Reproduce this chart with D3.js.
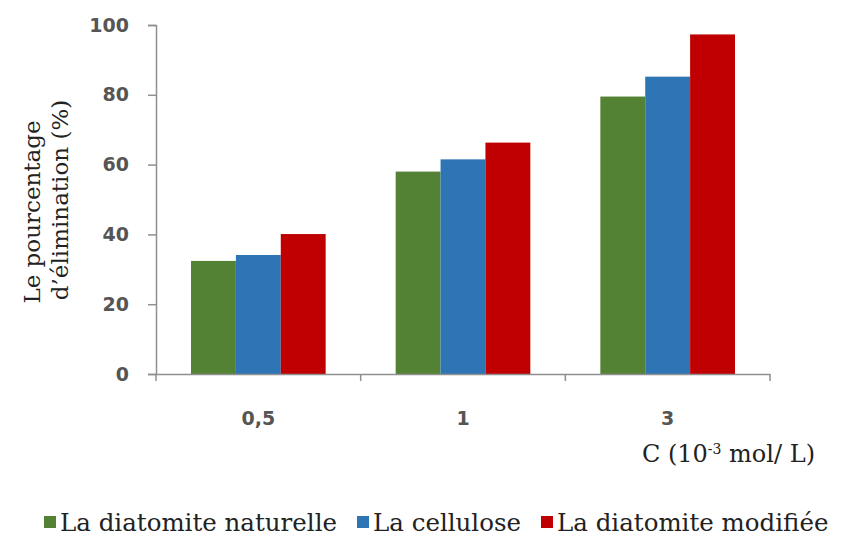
<!DOCTYPE html>
<html>
<head>
<meta charset="utf-8">
<script src="https://cdn.jsdelivr.net/npm/d3@7"></script>
<style>
  body { margin: 0; background: #fff; }
</style>
</head>
<body>
<svg id="chart" width="847" height="537"></svg>
<script>
// data
var categories = ["0,5", "1", "3"]
var series = ["La diatomite naturelle", "La cellulose", "La diatomite modifiée"]
var naturelle = [32.4, 58.0, 79.5]
var cellulose = [34.1, 61.5, 85.2]
var modifiee = [40.1, 66.3, 97.3]
var yTicks = [0, 20, 40, 60, 80, 100]
var colors = ["#548235", "#2e75b6", "#c00000"]

var values = [naturelle, cellulose, modifiee]

var dims = { left: 156, right: 770, top: 25, bottom: 374 }

var svg = d3.select("#chart")

var xScale = d3.scaleBand()
    .domain(categories)
    .range([dims.left, dims.right])

var inner = d3.scaleBand()
    .domain(series)
    .range([0, xScale.bandwidth()])
    .paddingInner(0)
    .paddingOuter(0.78)

var yScale = d3.scaleLinear()
    .domain([0, 100])
    .range([dims.bottom, dims.top])

// bars
var groups = svg.append("g")
    .selectAll("g")
    .data(categories)
    .enter()
    .append("g")
    .attr("transform", d => "translate(" + xScale(d) + ",0)")

groups.selectAll("rect")
    .data((c, i) => series.map((s, j) => ({ s: s, v: values[j][i], j: j })))
    .enter()
    .append("rect")
    .attr("x", d => inner(d.s))
    .attr("y", d => yScale(d.v))
    .attr("width", inner.bandwidth())
    .attr("height", d => yScale(0) - yScale(d.v))
    .attr("fill", d => colors[d.j])

var tickFont = "'DejaVu Sans', sans-serif"
var serif = "'DejaVu Serif', serif"

// y axis
var yAxis = svg.append("g")
    .attr("transform", "translate(" + dims.left + ",0)")
    .call(d3.axisLeft(yScale).tickValues(yTicks).tickSize(8).tickPadding(19))
yAxis.select(".domain").attr("stroke", "#8f8f8f").attr("stroke-width", 1.5)
yAxis.selectAll(".tick line").attr("stroke", "#8f8f8f").attr("stroke-width", 1.5)
yAxis.selectAll("text")
    .attr("fill", "#555")
    .attr("font-family", tickFont)
    .attr("font-size", "19px")
    .attr("font-weight", "bold")

// x axis
var xAxis = svg.append("g")
    .attr("transform", "translate(0," + dims.bottom + ")")
    .call(d3.axisBottom(xScale).tickSize(0).tickPadding(38))
xAxis.select(".domain").attr("stroke", "#8f8f8f").attr("stroke-width", 1.5)
xAxis.selectAll("text")
    .attr("fill", "#555")
    .attr("font-family", tickFont)
    .attr("font-size", "19px")
    .attr("font-weight", "bold")

// category boundary ticks
var bounds = categories.map(c => xScale(c)).concat([dims.right])
svg.append("g")
    .selectAll("line")
    .data(bounds)
    .enter()
    .append("line")
    .attr("x1", d => d)
    .attr("x2", d => d)
    .attr("y1", dims.bottom)
    .attr("y2", dims.bottom + 7)
    .attr("stroke", "#8f8f8f")
    .attr("stroke-width", 1.5)

// axis titles
var yTitle = svg.append("text")
    .attr("transform", "translate(40,212) rotate(-90)")
    .attr("text-anchor", "middle")
    .attr("font-family", serif)
    .attr("font-size", "23px")
    .attr("fill", "#222")
yTitle.append("tspan").attr("x", 0).attr("dy", 0).text("Le pourcentage")
yTitle.append("tspan").attr("x", 12).attr("dy", 28).text("d’élimination (%)")

var xTitle = svg.append("text")
    .attr("x", 815)
    .attr("y", 462)
    .attr("text-anchor", "end")
    .attr("font-family", serif)
    .attr("font-size", "24px")
    .attr("fill", "#222")
xTitle.append("tspan").text("C (10")
xTitle.append("tspan").attr("dy", -8).attr("font-size", "14px").text("-3")
xTitle.append("tspan").attr("dy", 8).text(" mol/ L)")

// legend
var legendX = [44, 357, 541]
var legend = svg.append("g")
    .selectAll("g")
    .data(series)
    .enter()
    .append("g")
    .attr("transform", (d, i) => "translate(" + legendX[i] + ",516)")
legend.append("rect")
    .attr("width", 12)
    .attr("height", 12)
    .attr("fill", (d, i) => colors[i])
legend.append("text")
    .attr("x", 16)
    .attr("y", 15)
    .attr("font-family", serif)
    .attr("font-size", "24.5px")
    .attr("fill", "#222")
    .text(d => d)
</script>
</body>
</html>
